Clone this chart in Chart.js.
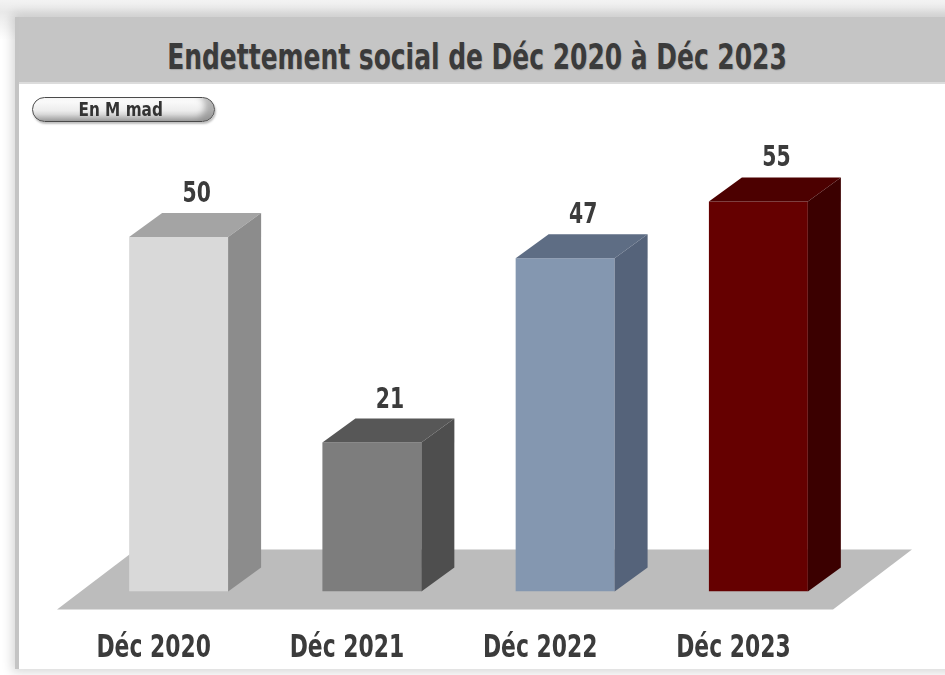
<!DOCTYPE html>
<html>
<head>
<meta charset="utf-8">
<title>Endettement social</title>
<script src="https://cdn.jsdelivr.net/npm/chart.js@4.4.0/dist/chart.umd.min.js"></script>
<style>
  body { margin: 0; background: #fff; }
  #wrap { position: relative; width: 945px; height: 675px; overflow: hidden;
          background: linear-gradient(#f3f3f3, #e9e9e9 12px, #fff 40px); }
  #panel { position: absolute; left: 15px; top: 17px; width: 960px; height: 652px;
           background: #fff; border-left: 4px solid #c4c4c4;
           box-shadow: 0 0 10px 3px rgba(0, 0, 0, 0.16); }
  #header { position: absolute; left: 0; top: 0; right: 0; height: 65px;
            background: #c5c5c5; border-bottom: 2px solid #dcdcdc; }
  .narrow { font-family: 'Liberation Sans Narrow', 'DejaVu Sans Condensed', 'Liberation Sans', sans-serif;
            font-weight: bold; color: #3b3b3b; white-space: nowrap; }
  #title { position: absolute; left: 0; top: 37px; width: 954px; text-align: center;
           font-size: 36px; line-height: 40px; transform: scaleX(0.77);
           text-shadow: 1px 1px 1px rgba(0, 0, 0, 0.15); }
  #unit { position: absolute; left: 32px; top: 97px; width: 181px; height: 23px;
          border: 1.5px solid #4a4a4a; border-radius: 13px;
          background: linear-gradient(#ffffff, #ececec 55%, #c9c9c9);
          box-shadow: inset -9px -3px 6px rgba(0, 0, 0, 0.28), 1px 2px 2px rgba(0, 0, 0, 0.25);
          text-align: center; line-height: 23px; }
  #unit span { display: inline-block; font-size: 20px; transform: scaleX(0.85); margin-right: 6px; color: #333; }
  #c { position: absolute; left: 0; top: 0; }
</style>
</head>
<body>
<div id="wrap">
  <div id="panel"><div id="header"></div></div>
  <div id="title" class="narrow">Endettement social de Déc 2020 à Déc 2023</div>
  <canvas id="c" width="945" height="675"></canvas>
  <div id="unit" class="narrow"><span>En M mad</span></div>
</div>
<script>
const FONT = "'Liberation Sans Narrow', 'DejaVu Sans Condensed', 'Liberation Sans', sans-serif";
const TEXT = '#3b3b3b';

const categories = ['Déc 2020', 'Déc 2021', 'Déc 2022', 'Déc 2023'];
const values = [50, 21, 47, 55];

const frontColors = ['#d9d9d9', '#7d7d7d', '#8497b0', '#650000'];
const topColors = ['#a4a4a4', '#575757', '#5e6d84', '#4c0000'];
const sideColors = ['#8c8c8c', '#4e4e4e', '#55637a', '#3b0000'];

// depth of the fake 3d boxes
const DX = 33, DY = 24;
// no narrow bold font installed, so squeeze the condensed one a bit more
const TICK_SQUEEZE = 0.76;
const VALUE_SQUEEZE = 0.78;

const CategoryBase = Chart.registry.getScale('category');

class SqueezedCategoryScale extends CategoryBase {
    drawLabels(chartArea) {
        if (!this.options.ticks.display) return;
        const ctx = this.ctx;
        for (const item of this.getLabelItems(chartArea)) {
            const o = item.options;
            ctx.save();
            ctx.translate(o.translation[0], o.translation[1]);
            ctx.rotate(o.rotation);
            ctx.scale(TICK_SQUEEZE, 1);
            ctx.font = item.font.string;
            ctx.fillStyle = o.color;
            ctx.textAlign = o.textAlign;
            ctx.textBaseline = o.textBaseline;
            ctx.fillText(item.label, 0, item.textOffset);
            ctx.restore();
        }
    }
}
SqueezedCategoryScale.id = 'squeezedCategory';
SqueezedCategoryScale.defaults = CategoryBase.defaults;
Chart.register(SqueezedCategoryScale);

const floor3d = {
    id: 'floor3d',
    beforeDatasetsDraw(chart) {
        const { ctx, chartArea: { left, right }, scales: { y } } = chart;
        const y0 = y.getPixelForValue(0);
        ctx.save();
        ctx.fillStyle = '#bcbcbc';
        ctx.beginPath();
        ctx.moveTo(left - 25, y0 + 18);
        ctx.lineTo(left + 54, y0 - 42);
        ctx.lineTo(right + 57, y0 - 42);
        ctx.lineTo(right - 22, y0 + 18);
        ctx.closePath();
        ctx.fill();
        ctx.restore();
    }
};

const bars3d = {
    id: 'bars3d',
    afterDatasetsDraw(chart) {
        const ctx = chart.ctx;
        chart.getDatasetMeta(0).data.forEach((bar, i) => {
            const { x, y, base, width } = bar.getProps(['x', 'y', 'base', 'width'], true);
            const l = x - width / 2, r = x + width / 2;
            ctx.save();
            ctx.fillStyle = topColors[i];
            ctx.beginPath();
            ctx.moveTo(l, y);
            ctx.lineTo(l + DX, y - DY);
            ctx.lineTo(r + DX, y - DY);
            ctx.lineTo(r, y);
            ctx.closePath();
            ctx.fill();

            ctx.fillStyle = sideColors[i];
            ctx.beginPath();
            ctx.moveTo(r, y);
            ctx.lineTo(r + DX, y - DY);
            ctx.lineTo(r + DX, base - DY);
            ctx.lineTo(r, base);
            ctx.closePath();
            ctx.fill();

            ctx.translate(x + 18, y - DY - 18.5);
            ctx.scale(VALUE_SQUEEZE, 1);
            ctx.fillStyle = TEXT;
            ctx.font = 'bold 29px ' + FONT;
            ctx.textAlign = 'center';
            ctx.textBaseline = 'middle';
            ctx.fillText(String(values[i]), 0, 0);
            ctx.restore();
        });
    }
};

new Chart(document.getElementById('c'), {
    type: 'bar',
    data: {
        labels: categories,
        datasets: [{
            data: values,
            backgroundColor: frontColors,
            borderWidth: 0,
            categoryPercentage: 1,
            barPercentage: 0.512
        }]
    },
    options: {
        responsive: false,
        animation: false,
        layout: { padding: { top: 95, left: 82, right: 90, bottom: -31 } },
        plugins: {
            legend: { display: false },
            tooltip: { enabled: false }
        },
        scales: {
            x: {
                type: 'squeezedCategory',
                grid: { display: false, drawTicks: false },
                border: { display: false },
                ticks: {
                    color: TEXT,
                    font: { family: FONT, size: 32, weight: 'bold' },
                    padding: 38,
                    labelOffset: -25
                }
            },
            y: { display: false, min: 0, max: 70 }
        }
    },
    plugins: [floor3d, bars3d]
});
</script>
</body>
</html>
